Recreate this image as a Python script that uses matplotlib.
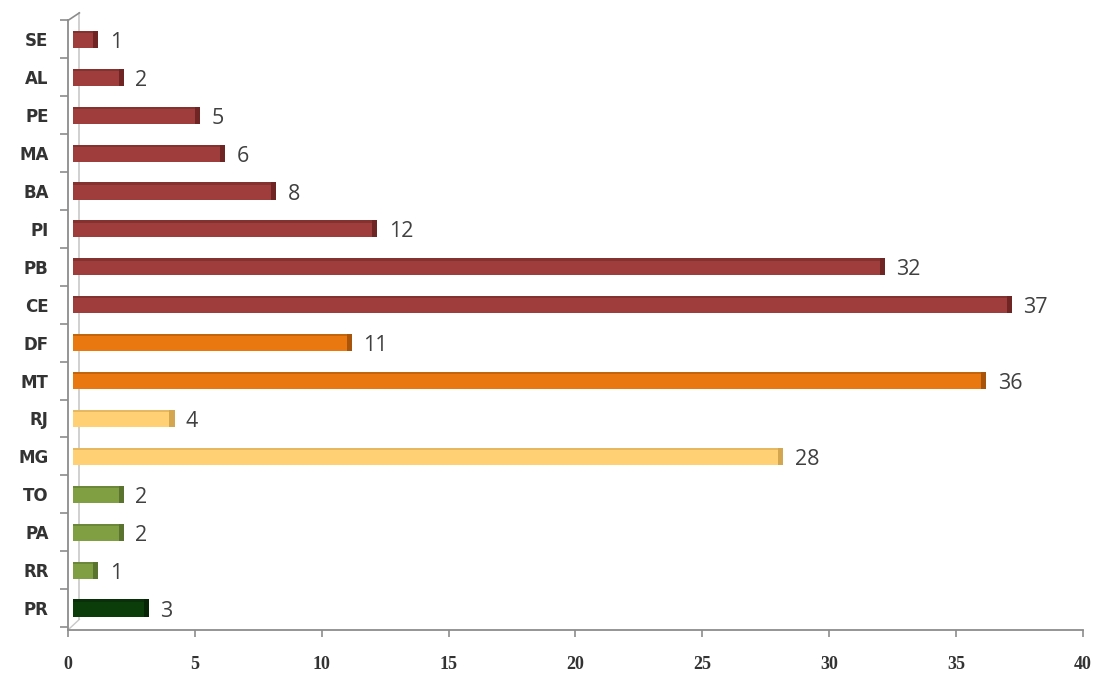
import matplotlib.pyplot as plt
import numpy as np

# states listed from top to bottom as in the chart
states = ['SE', 'AL', 'PE', 'MA', 'BA', 'PI', 'PB', 'CE',
          'DF', 'MT', 'RJ', 'MG', 'TO', 'PA', 'RR', 'PR']
counts = [1, 2, 5, 6, 8, 12, 32, 37, 11, 36, 4, 28, 2, 2, 1, 3]
groups = ['NE', 'NE', 'NE', 'NE', 'NE', 'NE', 'NE', 'NE',
          'CO', 'CO', 'SE', 'SE', 'N', 'N', 'N', 'S']

face = {'NE': '#9e3d3b', 'CO': '#e8780f', 'SE': '#ffd174', 'N': '#809f42', 'S': '#0b3d0b'}
side = {'NE': '#6e2524', 'CO': '#a8540a', 'SE': '#d4a650', 'N': '#5a7430', 'S': '#062506'}
edge = {'NE': '#833230', 'CO': '#c4650c', 'SE': '#e6b860', 'N': '#6b8838', 'S': '#0a300a'}

fig = plt.figure(figsize=(10.96, 6.75), dpi=100)
ax = fig.add_axes([0.062, 0.0667, 0.926, 0.903])

y = np.arange(len(states))[::-1]
h = 0.45
depth = 0.2  # 3D offset of the bars from the axis

# back wall lines of the 3D chart
ax.plot([0.45, 0.45], [-0.3, 15.7], color='#c8c8c8', lw=1.2, zorder=1, clip_on=False)
ax.plot([0, 0.45], [-0.58, -0.3], color='#c8c8c8', lw=1.0, zorder=1, clip_on=False)
ax.plot([0, 0.45], [15.5, 15.7], color='#8c8c8c', lw=1.2, zorder=1, clip_on=False)

for yi, v, g in zip(y, counts, groups):
    ax.barh(yi, v, left=depth, height=h, color=face[g], zorder=3)
    ax.barh(yi + h / 2 - 0.03, v, left=depth, height=0.06, color=edge[g], zorder=4)
    ax.barh(yi, 0.2, left=depth + v - 0.2, height=h, color=side[g], zorder=5)
    ax.text(depth + v + 0.45, yi - 0.08, str(v), va='center', ha='left',
            fontsize=15.5, color='#404040', family='Open Sans')

ax.set_xlim(0, 40)
ax.set_ylim(-0.58, 15.5)
ax.set_xticks(range(0, 41, 5))
ax.set_yticks(y)
ax.set_yticklabels(states)
ax.set_yticks(np.arange(-0.5, 15.6, 1), minor=True)

for s in ['top', 'right']:
    ax.spines[s].set_visible(False)
for s in ['left', 'bottom']:
    ax.spines[s].set_color('#8c8c8c')
    ax.spines[s].set_linewidth(1.3)

ax.tick_params(axis='y', which='major', length=0, pad=14)
ax.tick_params(axis='y', which='minor', length=6, color='#8c8c8c', width=1.2)
ax.tick_params(axis='x', length=5, color='#8c8c8c', width=1.2, pad=14)

for lbl in ax.get_yticklabels():
    lbl.set_fontfamily('DejaVu Sans')
    lbl.set_fontweight('bold')
    lbl.set_fontsize(12)
    lbl.set_color('#333333')
for lbl in ax.get_xticklabels():
    lbl.set_fontfamily('Liberation Serif')
    lbl.set_fontweight('bold')
    lbl.set_fontsize(13)
    lbl.set_color('#333333')

fig.savefig('out.png', dpi=100)
